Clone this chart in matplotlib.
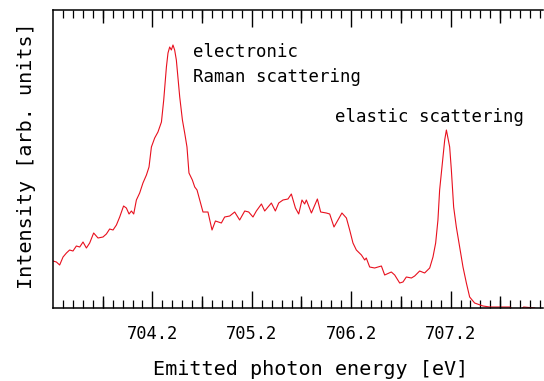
import numpy as np
import matplotlib
matplotlib.use('Agg')
import matplotlib.pyplot as plt
from matplotlib.ticker import FixedLocator, NullFormatter

# emitted photon energy (eV) and intensity (arb. units)
energy = [703.200, 703.234, 703.267, 703.301, 703.335, 703.367, 703.401, 703.435,
          703.469, 703.502, 703.536, 703.569, 703.609, 703.653, 703.703, 703.737,
          703.770, 703.804, 703.838, 703.871, 703.910, 703.938, 703.965, 703.989,
          704.012, 704.039, 704.072, 704.105, 704.140, 704.166, 704.190, 704.223,
          704.256, 704.291, 704.314, 704.341, 704.357, 704.374, 704.391, 704.407,
          704.424, 704.441, 704.475, 704.502, 704.525, 704.548, 704.568, 704.602,
          704.626, 704.649, 704.676, 704.709, 704.759, 704.800, 704.834, 704.894,
          704.927, 704.978, 705.028, 705.078, 705.129, 705.169, 705.212, 705.246,
          705.297, 705.330, 705.397, 705.437, 705.471, 705.514, 705.564, 705.598,
          705.639, 705.672, 705.705, 705.732, 705.749, 705.800, 705.860, 705.893,
          705.950, 705.984, 706.027, 706.107, 706.152, 706.185, 706.218, 706.252,
          706.303, 706.336, 706.352, 706.386, 706.436, 706.470, 706.504, 706.537,
          706.604, 706.638, 706.688, 706.721, 706.755, 706.806, 706.839, 706.889,
          706.939, 706.990, 707.023, 707.050, 707.073, 707.090, 707.118, 707.141,
          707.158, 707.174, 707.191, 707.208, 707.231, 707.258, 707.292, 707.325,
          707.359, 707.392, 707.442, 707.526, 707.593, 707.744, 707.795, 707.835,
          707.895, 707.936, 708.047]
intensity = [47, 46, 43, 51, 55, 58, 57, 62,
             61, 66, 60, 65, 75, 70, 71, 74,
             79, 78, 83, 91, 102, 100, 94, 97,
             94, 108, 115, 125, 133, 141, 161, 170,
             176, 186, 208, 241, 255, 261, 258, 263,
             258, 248, 211, 188, 175, 161, 135, 128,
             121, 118, 108, 96, 96, 78, 87, 85,
             91, 92, 96, 88, 97, 96, 91, 97,
             104, 97, 105, 97, 105, 108, 109, 114,
             100, 94, 108, 104, 108, 95, 109, 96,
             95, 94, 81, 95, 90, 78, 65, 58,
             53, 48, 50, 41, 40, 41, 42, 33,
             36, 33, 25, 26, 31, 30, 32, 37,
             35, 40, 51, 65, 88, 118, 145, 168,
             178, 170, 161, 138, 101, 81, 61, 41,
             25, 11, 5, 2, 1, 1, 1, -2,
             -2, 1, 0]

major_ticks = [704.2, 705.2, 706.2, 707.2]
tick_labels = ['704.2', '705.2', '706.2', '707.2']
mid_ticks = [703.7, 704.7, 705.7, 706.7, 707.7]
minor_ticks = np.round(np.arange(703.3, 708.15, 0.1), 1)

plt.rcParams['font.family'] = 'DejaVu Sans Mono'

fig = plt.figure(figsize=(5.44, 3.81), dpi=100)
ax = fig.add_axes([53 / 544, 73 / 381, 490 / 544, 298 / 381])

ax.plot(energy, intensity, color='#e8101e', lw=0.8)
ax.set_xlim(703.2, 708.13)
ax.set_ylim(0, 298)

# medium ticks at the half steps
ax2 = ax.twiny()
ax2.set_xlim(ax.get_xlim())
ax2.set_xticks(mid_ticks)
ax2.tick_params(axis='x', direction='in', length=9, width=1, top=True, bottom=True,
                labeltop=False, labelbottom=False)
for s in ax2.spines.values():
    s.set_visible(False)

ax.spines['right'].set_visible(False)
for s in ['left', 'bottom', 'top']:
    ax.spines[s].set_linewidth(1.1)

ax.set_yticks([])
ax.xaxis.set_major_locator(FixedLocator(major_ticks))
ax.set_xticklabels(tick_labels)
ax.xaxis.set_minor_locator(FixedLocator(minor_ticks))
ax.xaxis.set_minor_formatter(NullFormatter())
ax.tick_params(axis='x', which='major', direction='in', length=12, width=1,
               top=True, bottom=True, labeltop=False, labelbottom=True,
               labelsize=12.3, pad=12)
ax.tick_params(axis='x', which='minor', direction='in', length=6, width=0.9,
               top=True, bottom=True)

ax.set_xlabel('Emitted photon energy [eV]', fontsize=14.5)
ax.xaxis.label.set_verticalalignment('baseline')
ax.xaxis.set_label_coords(0.5265, -67 / 298)
ax.set_ylabel('Intensity [arb. units]', fontsize=14.5, rotation=90,
              rotation_mode='anchor', va='baseline', ha='center')
ax.yaxis.set_label_coords(-21 / 490, 152 / 298)

ax.text(704.605, 251, 'electronic', fontsize=12.5, va='baseline', ha='left')
ax.text(704.605, 226, 'Raman scattering', fontsize=12.5, va='baseline', ha='left')
ax.text(706.034, 186, 'elastic scattering', fontsize=12.5, va='baseline', ha='left')

plt.savefig('out.png', dpi=100)
